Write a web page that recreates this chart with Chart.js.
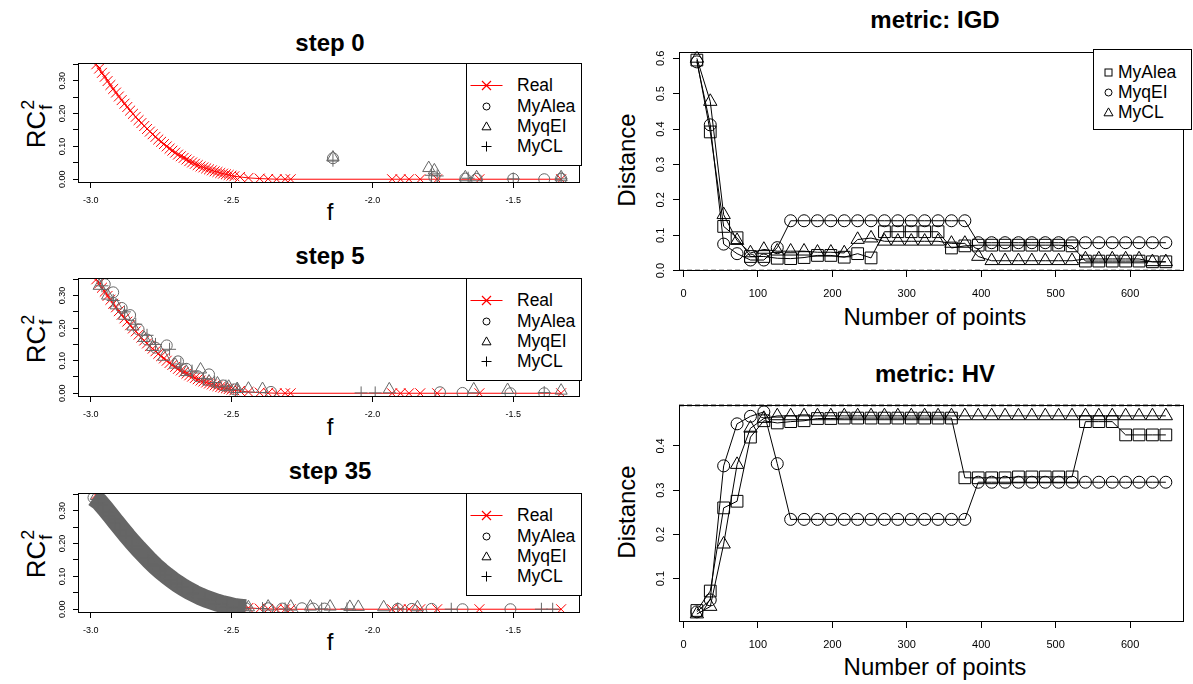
<!DOCTYPE html>
<html lang="en">
<head>
  <meta charset="UTF-8" />
  <title>Pareto front steps and metrics</title>
  <script src="https://cdn.jsdelivr.net/npm/chart.js"></script>
  <style>
    html, body { margin: 0; padding: 0; background: #fff; overflow: hidden; }
    body { font-family: "Liberation Sans", Arial, sans-serif; color: #000; }
    #page { position: relative; width: 1193px; height: 684px; }
    .panel { position: absolute; }
    .lbl { position: absolute; transform: translate(-50%, -50%); white-space: nowrap; line-height: normal; }
    .title { font-weight: bold; font-size: 24px; }
    .axl { font-size: 24px; }
    .rc { font-size: 26px; }
    .rot { transform: translate(-50%, -50%) rotate(-90deg); }
    .leg { position: absolute; box-sizing: border-box; border: 1px solid #000; background: #fff; }
    .leg svg { position: absolute; overflow: visible; }
    .leg span { position: absolute; font-size: 17.5px; line-height: 20px; transform: translateY(-50%); white-space: nowrap; }
    .ss { position: relative; display: inline-block; width: 13px; height: 1em; }
    .ss span { position: absolute; left: 1px; font-size: 18px; line-height: 18px; }
  </style>
</head>
<body>
<div id="page">
  <div class="lbl title" style="left:330px;top:43px">step 0</div>
  <div class="lbl title" style="left:330px;top:256px">step 5</div>
  <div class="lbl title" style="left:330px;top:471px">step 35</div>
  <div class="lbl title" style="left:935px;top:20px">metric: IGD</div>
  <div class="lbl title" style="left:935px;top:374px">metric: HV</div>

  <div class="lbl axl" style="left:330px;top:212px">f</div>
  <div class="lbl axl" style="left:330px;top:427px">f</div>
  <div class="lbl axl" style="left:330px;top:642px">f</div>
  <div class="lbl axl" style="left:935px;top:317px">Number of points</div>
  <div class="lbl axl" style="left:935px;top:667px">Number of points</div>

  <div class="lbl rc rot" style="left:35px;top:123px">RC<span class="ss"><span style="top:0px">2</span><span style="top:18px">f</span></span></div>
  <div class="lbl rc rot" style="left:35px;top:338px">RC<span class="ss"><span style="top:0px">2</span><span style="top:18px">f</span></span></div>
  <div class="lbl rc rot" style="left:35px;top:553px">RC<span class="ss"><span style="top:0px">2</span><span style="top:18px">f</span></span></div>
  <div class="lbl axl rot" style="left:627px;top:160px">Distance</div>
  <div class="lbl axl rot" style="left:627px;top:512px">Distance</div>

  <div class="panel" style="left:40px;top:55px;width:548px;height:154px"><canvas id="step0"></canvas></div>
  <div class="panel" style="left:40px;top:270px;width:548px;height:153px"><canvas id="step5"></canvas></div>
  <div class="panel" style="left:40px;top:485px;width:548px;height:154px"><canvas id="step35"></canvas></div>
  <div class="panel" style="left:640px;top:41px;width:553px;height:262px"><canvas id="igd"></canvas></div>
  <div class="panel" style="left:640px;top:394px;width:553px;height:260px"><canvas id="hv"></canvas></div>
</div>

<script>
  // real Pareto front (red), same in the three step panels
  const realF = [-2.98, -2.97, -2.96, -2.95, -2.94, -2.93, -2.92, -2.91, -2.90, -2.89,
    -2.88, -2.87, -2.86, -2.85, -2.84, -2.83, -2.82, -2.81, -2.80, -2.79,
    -2.78, -2.77, -2.76, -2.75, -2.74, -2.73, -2.72, -2.71, -2.70, -2.69,
    -2.68, -2.67, -2.66, -2.65, -2.64, -2.63, -2.62, -2.61, -2.60, -2.59,
    -2.58, -2.57, -2.56, -2.55, -2.54, -2.53, -2.52, -2.51, -2.50, -2.49,
    -2.47, -2.44, -2.40, -2.37, -2.34, -2.31, -2.29,
    -1.93, -1.90, -1.87, -1.83, -1.77, -1.62, -1.33];
  const realRC = [0.350, 0.337, 0.324, 0.312, 0.299, 0.287, 0.275, 0.264, 0.252, 0.241,
    0.230, 0.220, 0.209, 0.199, 0.190, 0.180, 0.171, 0.162, 0.153, 0.145,
    0.137, 0.129, 0.121, 0.114, 0.107, 0.100, 0.093, 0.087, 0.081, 0.075,
    0.070, 0.065, 0.060, 0.055, 0.051, 0.047, 0.043, 0.039, 0.036, 0.033,
    0.030, 0.027, 0.024, 0.022, 0.019, 0.017, 0.015, 0.013, 0.011, 0.009,
    0.007, 0.004, 0.002, 0.001, 0, 0, 0,
    0, 0, 0, 0, 0, 0, 0];

  // step 0
  const s0AleaF = [-2.14, -1.78, -1.67, -1.63, -1.50, -1.39, -1.33];
  const s0AleaRC = [0.064, 0.006, 0.002, 0.001, 0.001, 0.000, 0.002];
  const s0QeiF = [-2.14, -1.80, -1.78, -1.67, -1.63, -1.33];
  const s0QeiRC = [0.066, 0.034, 0.027, 0.006, 0.006, 0.006];
  const s0ClF = [-2.14, -1.79, -1.77, -1.66, -1.50, -1.33];
  const s0ClRC = [0.058, 0.012, 0.010, 0.003, 0.001, 0.001];

  // step 5
  const s5AleaF = [-2.95, -2.92, -2.89, -2.86, -2.83, -2.80, -2.77, -2.73, -2.69, -2.66,
    -2.62, -2.58, -2.53, -2.49, -2.36, -1.76, -1.68, -1.51, -1.39];
  const s5AleaRC = [0.335, 0.310, 0.262, 0.240, 0.196, 0.165, 0.140, 0.147, 0.098, 0.075,
    0.052, 0.058, 0.024, 0.012, 0.004, 0.003, 0.001, 0.000, 0.000];
  const s5QeiF = [-2.97, -2.94, -2.91, -2.88, -2.85, -2.81, -2.78, -2.74, -2.70, -2.66,
    -2.61, -2.58, -2.55, -2.51, -2.48, -2.44, -2.39, -1.94, -1.64, -1.52, -1.33];
  const s5QeiRC = [0.330, 0.300, 0.270, 0.238, 0.205, 0.170, 0.142, 0.112, 0.088, 0.065,
    0.073, 0.036, 0.030, 0.020, 0.013, 0.014, 0.013, 0.012, 0.012, 0.010, 0.008];
  const s5ClF = [-2.96, -2.92, -2.88, -2.84, -2.80, -2.77, -2.72, -2.68, -2.64, -2.60,
    -2.56, -2.52, -2.48, -2.04, -1.99, -1.39];
  const s5ClRC = [0.330, 0.285, 0.250, 0.212, 0.178, 0.150, 0.135, 0.090, 0.068, 0.045,
    0.033, 0.022, 0.012, 0.001, 0.001, 0.002];

  // step 35 (first 28 MyAlea points lie on the dense front)
  const s35AleaF = [-2.99, -2.97, -2.95, -2.93, -2.91, -2.89, -2.87, -2.85, -2.83, -2.81,
    -2.79, -2.77, -2.75, -2.73, -2.71, -2.69, -2.67, -2.65, -2.63, -2.61,
    -2.59, -2.57, -2.55, -2.53, -2.51, -2.49, -2.47, -2.45,
    -2.37, -2.32, -2.25, -2.21, -2.17, -1.91, -1.86, -1.79, -1.68, -1.51];
  const s35AleaRC = [0.340, 0.328, 0.308, 0.287, 0.265, 0.244, 0.223, 0.203, 0.184, 0.166,
    0.148, 0.131, 0.116, 0.102, 0.089, 0.077, 0.066, 0.056, 0.047, 0.039,
    0.032, 0.026, 0.020, 0.015, 0.011, 0.007, 0.005, 0.003,
    0.003, 0.002, 0.003, 0.002, 0.002, 0.001, 0.001, 0.001, 0.000, 0.000];
  const s35QeiF = [-2.98, -2.96, -2.94, -2.92, -2.90, -2.88, -2.86, -2.84, -2.82, -2.80,
    -2.78, -2.76, -2.74, -2.72, -2.70, -2.68, -2.66, -2.64, -2.62, -2.60,
    -2.58, -2.56, -2.54, -2.52, -2.50, -2.48, -2.46, -2.44,
    -2.37, -2.29, -2.22, -2.15, -2.08, -2.05, -1.96, -1.84];
  const s35QeiRC = [0.345, 0.328, 0.306, 0.285, 0.264, 0.243, 0.223, 0.203, 0.184, 0.166,
    0.149, 0.133, 0.118, 0.104, 0.091, 0.079, 0.068, 0.058, 0.049, 0.041,
    0.034, 0.028, 0.022, 0.017, 0.013, 0.010, 0.008, 0.006,
    0.008, 0.008, 0.008, 0.008, 0.007, 0.007, 0.006, 0.006];
  const s35ClF = [-2.975, -2.955, -2.935, -2.915, -2.895, -2.875, -2.855, -2.835, -2.815, -2.795,
    -2.775, -2.755, -2.735, -2.715, -2.695, -2.675, -2.655, -2.635, -2.615, -2.595,
    -2.575, -2.555, -2.535, -2.515, -2.495, -2.475, -2.455,
    -2.39, -2.31, -2.18, -2.09, -1.91, -1.72, -1.40, -1.36];
  const s35ClRC = [0.325, 0.305, 0.285, 0.263, 0.242, 0.222, 0.202, 0.183, 0.165, 0.148,
    0.132, 0.117, 0.103, 0.090, 0.078, 0.067, 0.057, 0.048, 0.040, 0.032,
    0.026, 0.020, 0.015, 0.010, 0.007, 0.004, 0.002,
    0.002, 0.001, 0.001, 0.001, 0.001, 0.000, 0.000, 0.000];
  const frontN = 28;

  // metrics vs number of points
  const nPoints = [18, 36, 54, 72, 90, 108, 126, 144, 162, 180, 198, 216, 234, 252, 270, 288, 306, 324,
    342, 360, 378, 396, 414, 432, 450, 468, 486, 504, 522, 540, 558, 576, 594, 612, 630, 648];
  const igdAlea = [0.595, 0.392, 0.125, 0.093, 0.040, 0.040, 0.035, 0.034, 0.037, 0.043, 0.043, 0.038,
    0.048, 0.036, 0.110, 0.110, 0.110, 0.110, 0.110, 0.064, 0.070, 0.072, 0.072, 0.072, 0.072, 0.072,
    0.072, 0.072, 0.070, 0.027, 0.027, 0.027, 0.027, 0.027, 0.025, 0.025];
  const igdQei = [0.590, 0.412, 0.075, 0.048, 0.030, 0.030, 0.065, 0.141, 0.141, 0.141, 0.141, 0.141,
    0.141, 0.141, 0.141, 0.141, 0.141, 0.141, 0.141, 0.141, 0.141, 0.079, 0.079, 0.079, 0.079, 0.079,
    0.079, 0.079, 0.079, 0.079, 0.079, 0.079, 0.079, 0.079, 0.079, 0.079];
  const igdCl = [0.600, 0.478, 0.158, 0.085, 0.050, 0.060, 0.055, 0.055, 0.055, 0.052, 0.052, 0.050,
    0.088, 0.092, 0.083, 0.083, 0.083, 0.083, 0.083, 0.077, 0.077, 0.040, 0.028, 0.028, 0.028, 0.028,
    0.028, 0.028, 0.028, 0.033, 0.033, 0.033, 0.033, 0.033, 0.025, 0.025];
  const hvAlea = [0.028, 0.072, 0.260, 0.275, 0.420, 0.457, 0.452, 0.455, 0.457, 0.462, 0.462, 0.463,
    0.463, 0.463, 0.463, 0.463, 0.463, 0.463, 0.463, 0.463, 0.328, 0.328, 0.328, 0.328, 0.330, 0.330,
    0.330, 0.330, 0.330, 0.455, 0.455, 0.455, 0.425, 0.425, 0.425, 0.425];
  const hvQei = [0.025, 0.052, 0.355, 0.450, 0.467, 0.477, 0.360, 0.234, 0.234, 0.234, 0.234, 0.234,
    0.234, 0.234, 0.234, 0.234, 0.234, 0.234, 0.234, 0.234, 0.234, 0.318, 0.318, 0.318, 0.318, 0.318,
    0.318, 0.318, 0.318, 0.318, 0.318, 0.318, 0.318, 0.318, 0.318, 0.318];
  const hvCl = [0.020, 0.037, 0.178, 0.358, 0.440, 0.462, 0.468, 0.468, 0.468, 0.468, 0.468, 0.468,
    0.468, 0.468, 0.468, 0.468, 0.468, 0.468, 0.468, 0.468, 0.468, 0.468, 0.468, 0.468, 0.468, 0.468,
    0.468, 0.468, 0.468, 0.468, 0.468, 0.468, 0.468, 0.468, 0.468, 0.468];
  const igdRef = 0;
  const hvRef = 0.492;

  const RED = '#ff0000';
  const GREY = '#666666';
  const NONE = 'rgba(0,0,0,0)';

  Chart.defaults.font.family = '"Liberation Sans", Arial, sans-serif';
  Chart.defaults.color = '#000';

  const pts = (xs, ys) => xs.map((x, i) => ({ x: x, y: ys[i] }));

  // box around the plot region, like R's box()
  const frame = {
    id: 'frame',
    afterDatasetsDraw(chart) {
      const a = chart.chartArea, ctx = chart.ctx;
      const x0 = Math.round(a.left) + 0.5, x1 = Math.round(a.right) - 0.5;
      const y0 = Math.round(a.top) + 0.5, y1 = Math.round(a.bottom) - 0.5;
      ctx.save();
      ctx.strokeStyle = '#000';
      ctx.lineWidth = 1;
      ctx.strokeRect(x0, y0, x1 - x0, y1 - y0);
      ctx.restore();
    }
  };

  // dashed horizontal reference (ideal value)
  const refLine = {
    id: 'refLine',
    afterDatasetsDraw(chart, args, opts) {
      if (opts.value === undefined) return;
      const a = chart.chartArea, ctx = chart.ctx;
      const y = chart.scales.y.getPixelForValue(opts.value);
      ctx.save();
      ctx.beginPath();
      ctx.rect(a.left, a.top, a.right - a.left, a.bottom - a.top);
      ctx.clip();
      ctx.strokeStyle = '#000';
      ctx.lineWidth = 2;
      ctx.setLineDash([5, 3]);
      ctx.beginPath();
      ctx.moveTo(a.left, y);
      ctx.lineTo(a.right, y);
      ctx.stroke();
      ctx.restore();
    }
  };

  function xAxis(min, max, step, fmt, size, tick, pad, h) {
    return {
      type: 'linear', position: 'bottom', min: min, max: max,
      afterFit: s => { s.height = h; },
      border: { display: false },
      grid: { drawOnChartArea: false, drawTicks: true, tickLength: tick, color: '#000', lineWidth: 1 },
      ticks: { stepSize: step, includeBounds: false, autoSkip: false, minRotation: 0, maxRotation: 0,
        padding: pad, color: '#000', font: { size: size }, callback: fmt }
    };
  }

  function yAxis(min, max, step, fmt, size, tick, pad, w) {
    return {
      type: 'linear', position: 'left', min: min, max: max,
      afterFit: s => { s.width = w; },
      border: { display: false },
      grid: { drawOnChartArea: false, drawTicks: true, tickLength: tick, color: '#000', lineWidth: 1 },
      ticks: { stepSize: step, includeBounds: false, autoSkip: false, minRotation: 90, maxRotation: 90,
        crossAlign: 'center', padding: pad, color: '#000', font: { size: size }, callback: fmt }
    };
  }

  function realSet() {
    return { label: 'Real', data: pts(realF, realRC), showLine: true, borderColor: RED, borderWidth: 1,
      pointStyle: 'crossRot', pointRadius: 7, pointBorderColor: RED, pointBackgroundColor: RED,
      pointBorderWidth: 1, order: 5 };
  }

  function greySet(label, xs, ys, style, r) {
    return { label: label, data: pts(xs, ys), showLine: false, pointStyle: style, pointRadius: r,
      pointBorderColor: GREY, pointBackgroundColor: NONE, pointBorderWidth: 1, order: 1 };
  }

  function stepChart(id, sets) {
    return new Chart(document.getElementById(id), {
      type: 'scatter',
      data: { datasets: sets },
      options: {
        responsive: true, maintainAspectRatio: false, animation: false, events: [],
        layout: { padding: { top: 8, right: 6, bottom: 0, left: 0 } },
        plugins: { legend: { display: false }, tooltip: { enabled: false } },
        scales: {
          x: xAxis(-3.045, -1.263, 0.5, v => v.toFixed(1), 9, 5, 7, 26),
          y: yAxis(-0.0115, 0.354, 0.05,
            v => (Math.round(v * 100) % 10 === 0 ? v.toFixed(2) : ''), 9, 5, 2, 38)
        }
      },
      plugins: [frame, refLine]
    });
  }

  stepChart('step0', [
    realSet(),
    greySet('MyAlea', s0AleaF, s0AleaRC, 'circle', 5.5),
    greySet('MyqEI', s0QeiF, s0QeiRC, 'triangle', 7),
    greySet('MyCL', s0ClF, s0ClRC, 'cross', 6.5)
  ]);

  stepChart('step5', [
    realSet(),
    greySet('MyAlea', s5AleaF, s5AleaRC, 'circle', 5.5),
    greySet('MyqEI', s5QeiF, s5QeiRC, 'triangle', 7),
    greySet('MyCL', s5ClF, s5ClRC, 'cross', 6.5)
  ]);

  stepChart('step35', [
    realSet(),
    { label: 'front', data: pts(s35AleaF.slice(0, frontN), s35AleaRC.slice(0, frontN)), showLine: true,
      borderColor: GREY, borderWidth: 18, pointRadius: 0, order: 2 },
    greySet('MyAlea', s35AleaF, s35AleaRC, 'circle', 5.5),
    greySet('MyqEI', s35QeiF, s35QeiRC, 'triangle', 7),
    greySet('MyCL', s35ClF, s35ClRC, 'cross', 6.5)
  ]);

  function blackSet(label, ys, style, r) {
    return { label: label, data: pts(nPoints, ys), showLine: true, borderColor: '#000', borderWidth: 1,
      pointStyle: style, pointRadius: r, pointBorderColor: '#000', pointBackgroundColor: NONE,
      pointBorderWidth: 1 };
  }

  function metricChart(id, yMin, yMax, ref, sets) {
    return new Chart(document.getElementById(id), {
      type: 'scatter',
      data: { datasets: sets },
      options: {
        responsive: true, maintainAspectRatio: false, animation: false, events: [],
        layout: { padding: { top: 8, right: 1, bottom: 0, left: 0 } },
        plugins: { legend: { display: false }, tooltip: { enabled: false }, refLine: { value: ref } },
        scales: {
          x: xAxis(-6, 672, 100, v => String(v), 11, 6, 10, 32),
          y: yAxis(yMin, yMax, 0.1, v => v.toFixed(1), 11, 6, 4, 39)
        }
      },
      plugins: [frame, refLine]
    });
  }

  metricChart('igd', -0.001, 0.619, igdRef, [
    blackSet('MyAlea', igdAlea, 'rect', 8.3),
    blackSet('MyqEI', igdQei, 'circle', 6),
    blackSet('MyCL', igdCl, 'triangle', 7.7)
  ]);

  metricChart('hv', 0.002, 0.4935, hvRef, [
    blackSet('MyAlea', hvAlea, 'rect', 8.3),
    blackSet('MyqEI', hvQei, 'circle', 6),
    blackSet('MyCL', hvCl, 'triangle', 7.7)
  ]);

  // R-style boxed legends as html
  const SYM = {
    real: '<line x1="-16" y1="0" x2="16" y2="0" style="stroke:#ff0000;stroke-width:1.2"/>' +
      '<path d="M-4.5 -4.5L4.5 4.5M4.5 -4.5L-4.5 4.5" style="stroke:#ff0000;stroke-width:1.2;fill:none"/>',
    circle: '<circle r="3.5" style="fill:none;stroke:#000"/>',
    triangle: '<path d="M0 -4.6L4.5 3.3L-4.5 3.3Z" style="fill:none;stroke:#000"/>',
    plus: '<path d="M-5 0H5M0 -5V5" style="fill:none;stroke:#000"/>',
    square: '<rect x="-3.5" y="-3.5" width="7" height="7" style="fill:none;stroke:#000"/>'
  };

  function legend(left, top, width, height, symX, textX, rows) {
    const d = document.createElement('div');
    d.className = 'leg';
    d.style.cssText = `left:${left}px;top:${top}px;width:${width}px;height:${height}px`;
    d.innerHTML = rows.map(r =>
      `<svg width="40" height="20" viewBox="-20.5 -10.5 40 20" style="left:${symX - 21}px;top:${r.y - 11}px">${SYM[r.sym]}</svg>` +
      `<span style="left:${textX - 1}px;top:${r.y - 1}px">${r.text}</span>`).join('');
    document.getElementById('page').appendChild(d);
  }

  const stepRows = [
    { sym: 'real', text: 'Real', y: 22 },
    { sym: 'circle', text: 'MyAlea', y: 42.5 },
    { sym: 'triangle', text: 'MyqEI', y: 63 },
    { sym: 'plus', text: 'MyCL', y: 83 }
  ];
  legend(466, 63, 116, 103, 20, 51, stepRows);
  legend(466, 278, 116, 103, 20, 51, stepRows);
  legend(466, 493, 116, 103, 20, 51, stepRows);
  legend(1093, 49, 99, 81, 15, 25, [
    { sym: 'square', text: 'MyAlea', y: 22.5 },
    { sym: 'circle', text: 'MyqEI', y: 43 },
    { sym: 'triangle', text: 'MyCL', y: 63 }
  ]);
</script>
</body>
</html>
